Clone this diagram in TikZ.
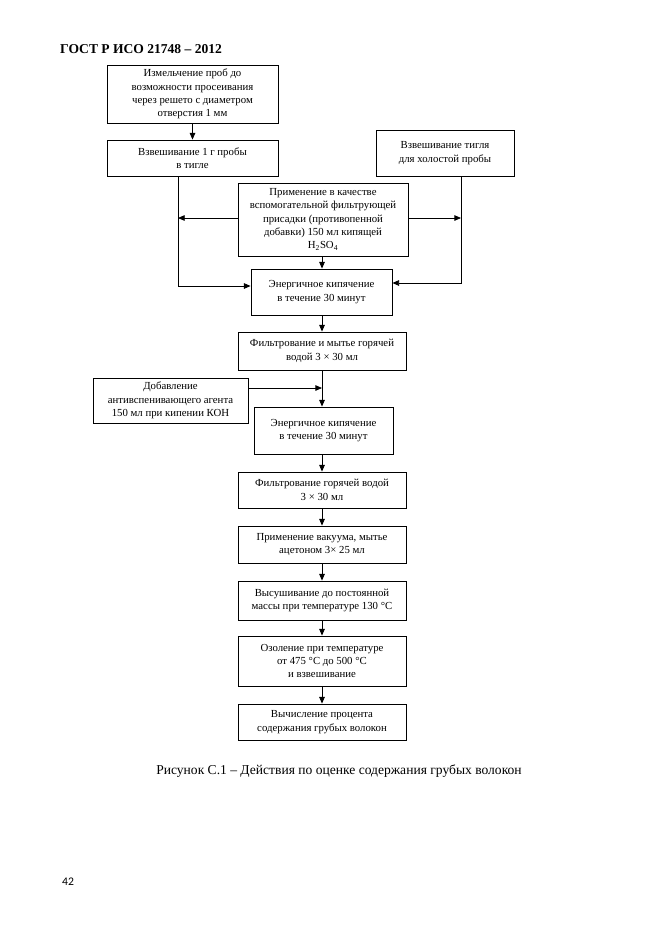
\documentclass[tikz,border=0pt]{standalone}
\usepackage{fontspec}
\setmainfont{Liberation Serif}
\newfontfamily\numfont{Carlito}
\usetikzlibrary{arrows.meta}
\begin{document}
\begin{tikzpicture}[x=0.9pt,y=-0.9pt,
  box/.style={draw, line width=0.75pt, inner sep=0pt, align=center, font=\fontsize{9.7}{12}\selectfont},
  arr/.style={line width=0.75pt, -{Triangle[length=6pt,width=5pt]}},
  ln/.style={line width=0.75pt}]
\useasboundingbox (0,0) rectangle (661,936);

\node[anchor=base west, inner sep=0pt, font=\fontsize{12.2}{14}\selectfont\bfseries] (hdr) at (60,53) {ГОСТ Р ИСО 21748 – 2012};

\node[box, minimum width=171*0.9pt, minimum height=58*0.9pt] (b1) at (192.5,94)
  {Измельчение проб до\\возможности просеивания\\через решето с диаметром\\отверстия 1 мм};
\node[box, minimum width=171*0.9pt, minimum height=36*0.9pt] (b2) at (192.5,158)
  {Взвешивание 1 г пробы\\в тигле};
\node[box, minimum width=138*0.9pt, minimum height=46*0.9pt] (b3) at (445,153)
  {Взвешивание тигля\\для холостой пробы};
\node[box, minimum width=170*0.9pt, minimum height=73*0.9pt] (b4) at (323,219.5)
  {Применение в качестве\\вспомогательной фильтрующей\\присадки (противопенной\\добавки) 150 мл кипящей\\H\textsubscript{2}SO\textsubscript{4}};
\node[box, minimum width=141*0.9pt, minimum height=46*0.9pt] (b5) at (321.5,292)
  {Энергичное кипячение\\в течение 30 минут};
\node[box, minimum width=168*0.9pt, minimum height=38*0.9pt] (b6) at (322,351)
  {Фильтрование и мытье горячей\\водой 3 × 30 мл};
\node[box, minimum width=155*0.9pt, minimum height=45*0.9pt] (b7) at (170.5,400.5)
  {Добавление\\антивспенивающего агента\\150 мл при кипении КОН};
\node[box, minimum width=139*0.9pt, minimum height=47*0.9pt] (b8) at (323.5,430.5)
  {Энергичное кипячение\\в течение 30 минут};
\node[box, minimum width=168*0.9pt, minimum height=36*0.9pt] (b9) at (322,490)
  {Фильтрование горячей водой\\3 × 30 мл};
\node[box, minimum width=168*0.9pt, minimum height=37*0.9pt] (b10) at (322,544.5)
  {Применение вакуума, мытье\\ацетоном 3× 25 мл};
\node[box, minimum width=168*0.9pt, minimum height=39*0.9pt] (b11) at (322,600.5)
  {Высушивание до постоянной\\массы при температуре 130 °С};
\node[box, minimum width=168*0.9pt, minimum height=50*0.9pt] (b12) at (322,661)
  {Озоление при температуре\\от 475 °С до 500 °С\\и взвешивание};
\node[box, minimum width=168*0.9pt, minimum height=36*0.9pt] (b13) at (322,722)
  {Вычисление процента\\содержания грубых волокон};

\node[anchor=base, inner sep=0pt, font=\fontsize{12.2}{14}\selectfont] (cap) at (339,774)
  {Рисунок С.1 – Действия по оценке содержания грубых волокон};
\node[anchor=base west, inner sep=0pt, font=\numfont\fontsize{10.5}{12}\selectfont] (pg) at (62,885) {42};

\coordinate (cx) at (322,0);
\coordinate (L) at (178,286);
\coordinate (R) at (461,283);
\coordinate (LA) at (178,218);
\coordinate (RA) at (461,218);
\coordinate (KA) at (322,388);

\draw[arr] (b1) -- (b2);
\draw[arr] (b2.south -| L) -- (L) -- (L -| b5.west);
\draw[arr] (b3.south -| R) -- (R) -- (R -| b5.east);
\draw[arr] (b4.west |- LA) -- (LA);
\draw[arr] (b4.east |- RA) -- (RA);
\draw[arr] (b4.south -| cx) -- (b5.north -| cx);
\draw[arr] (b5.south -| cx) -- (b6.north -| cx);
\draw[arr] (b6.south -| cx) -- (b8.north -| cx);
\draw[arr] (b7.east |- KA) -- (KA);
\draw[arr] (b8.south -| cx) -- (b9.north -| cx);
\draw[arr] (b9.south -| cx) -- (b10.north -| cx);
\draw[arr] (b10.south -| cx) -- (b11.north -| cx);
\draw[arr] (b11.south -| cx) -- (b12.north -| cx);
\draw[arr] (b12.south -| cx) -- (b13.north -| cx);
\end{tikzpicture}
\end{document}
